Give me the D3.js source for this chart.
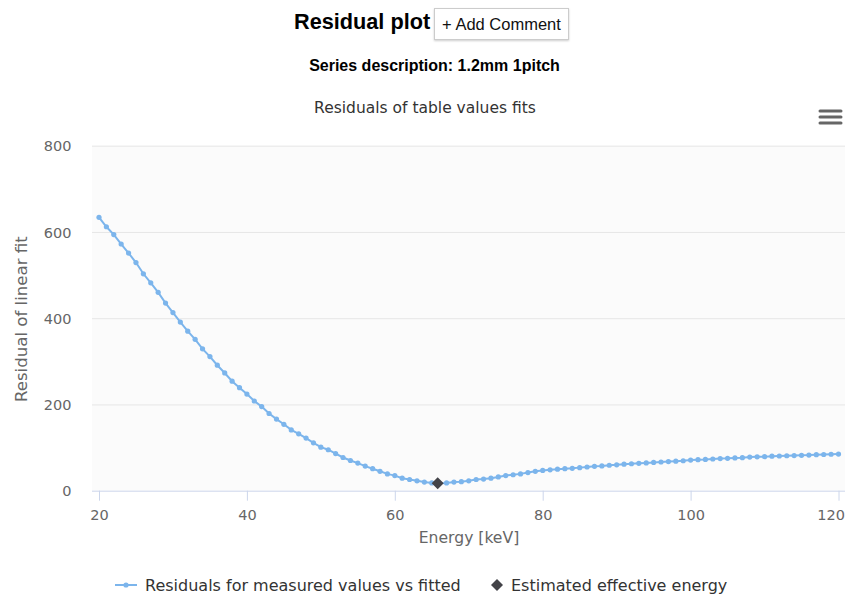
<!DOCTYPE html>
<html><head><meta charset="utf-8">
<script src="https://cdn.jsdelivr.net/npm/d3@7"></script>
<style>
body{margin:0;background:#fff;width:850px;height:602px;overflow:hidden;position:relative;font-family:"Liberation Sans",Arial,sans-serif}
#title{position:absolute;left:294px;top:9px;font-weight:bold;font-size:21.7px;color:#000}
#btn{position:absolute;left:434px;top:8px;width:135px;height:32px;border:1px solid #ccc;box-shadow:0 1px 2px rgba(0,0,0,0.2);background:#fff;font-size:16.5px;line-height:31px;text-align:center;color:#111;box-sizing:border-box}
#sub{position:absolute;left:0;width:869px;top:57px;text-align:center;font-weight:bold;font-size:16px;color:#000}
svg{position:absolute;left:0;top:0}
</style></head>
<body>
<div id="title">Residual plot</div>
<div id="btn">+ Add Comment</div>
<div id="sub">Series description: 1.2mm 1pitch</div>
<svg id="chart" width="850" height="602"></svg>
<script>
const energies = d3.range(20, 121, 1);
const residuals = [
634,612,594,572,551,529,503,482,460,435,
413,391,370,351,329,311,291,273,254,239,
224,208,195,179,166,154,141,132,122,111,
101,95,86,77,70,64,57,51,45,39,
35,29,26,23,20,18,17,18,20,21,
23,26,27,29,32,35,37,39,42,45,
47,48.5,50,51,52,53.5,55,56.5,57.5,59,
60,61.5,62.5,63.5,64.5,65.5,66.5,67.5,68.5,69.5,
71,72,72.5,73.5,74.5,75,76,76.5,78,78.5,
79,80,80.5,81,81.5,82,82.5,83.5,84,84.5,85];
const estimated = [{energy:65.8, residual:17}];
const xTicks = [20,40,60,80,100,120];
const yTicks = [0,200,400,600,800];
const chartTitle = "Residuals of table values fits";
const xTitle = "Energy [keV]";
const yTitle = "Residual of linear fit";
const seriesNames = ["Residuals for measured values vs fitted","Estimated effective energy"];

const svg = d3.select("#chart");
const font = "'DejaVu Sans', sans-serif";
const x = d3.scaleLinear().domain([20,120]).range([99,838.5]);
const y = d3.scaleLinear().domain([0,800]).range([490.7,145.7]);
const plotL = 92, plotR = 845, plotT = 145.7, plotB = 490.7;

svg.append("rect").attr("x",plotL).attr("y",plotT).attr("width",plotR-plotL).attr("height",plotB-plotT).attr("fill","#fbfbfb");

svg.append("g").selectAll("line").data(yTicks.filter(d=>d>0)).join("line")
  .attr("x1",plotL).attr("x2",plotR).attr("y1",d=>y(d)+0.5).attr("y2",d=>y(d)+0.5)
  .attr("stroke","#e6e6e6").attr("stroke-width",1);

const yAxis = d3.axisLeft(y).tickValues(yTicks).tickSize(0).tickPadding(0);
const gy = svg.append("g").attr("transform",`translate(${plotL-20.5},0)`).call(yAxis);
gy.select(".domain").remove();
gy.selectAll("text").attr("font-family",font).attr("font-size",14.5).attr("fill","#666").attr("dy","0.35em");

const xAxis = d3.axisBottom(x).tickValues(xTicks).tickSize(10).tickPadding(6);
const gx = svg.append("g").attr("transform",`translate(0,${plotB})`).call(xAxis);
gx.select(".domain").attr("d",`M${plotL},0.5H${plotR}`).attr("stroke","#ccd6eb");
gx.selectAll(".tick line").attr("stroke","#ccd6eb");
gx.selectAll("text").attr("font-family",font).attr("font-size",14.5).attr("fill","#666").attr("dy","0.9em");
// last label kept inside the chart, as the reference does
gx.selectAll(".tick").filter(d=>d===xTicks[xTicks.length-1]).select("text")
  .attr("text-anchor","end").attr("x",plotR - x(xTicks[xTicks.length-1]) - 0.5);

svg.append("text").attr("x",425).attr("y",113).attr("text-anchor","middle")
  .attr("font-family",font).attr("font-size",15.5).attr("fill","#333").text(chartTitle);
svg.append("text").attr("x",469).attr("y",543).attr("text-anchor","middle")
  .attr("font-family",font).attr("font-size",15.6).attr("fill","#666").text(xTitle);
svg.append("text").attr("transform",`translate(27,${(plotT+plotB)/2+1}) rotate(-90)`).attr("text-anchor","middle")
  .attr("font-family",font).attr("font-size",16.6).attr("fill","#666").text(yTitle);

svg.append("g").selectAll("line").data([0,1,2]).join("line")
  .attr("x1",820).attr("x2",841).attr("y1",d=>111+d*6).attr("y2",d=>111+d*6)
  .attr("stroke","#666").attr("stroke-width",3).attr("stroke-linecap","round");

const data = energies.map((e,i)=>({e, v:residuals[i]}));
const line = d3.line().x(d=>x(d.e)).y(d=>y(d.v));
svg.append("path").datum(data).attr("d",line).attr("fill","none").attr("stroke","#7cb5ec").attr("stroke-width",2);
svg.append("g").selectAll("circle").data(data).join("circle")
  .attr("cx",d=>x(d.e)).attr("cy",d=>y(d.v)).attr("r",2.6).attr("fill","#7cb5ec");

const diamond = s => `M0,${-s}L${s},0L0,${s}L${-s},0Z`;
svg.append("g").selectAll("path").data(estimated).join("path")
  .attr("transform",d=>`translate(${x(d.energy)},${y(d.residual)})`).attr("d",diamond(6)).attr("fill","#434348");

const lg = svg.append("g").attr("transform","translate(0,585)");
lg.append("line").attr("x1",115).attr("x2",137).attr("y1",0).attr("y2",0).attr("stroke","#7cb5ec").attr("stroke-width",2);
lg.append("circle").attr("cx",126).attr("cy",0).attr("r",2.6).attr("fill","#7cb5ec");
lg.append("text").attr("x",145).attr("y",0).attr("dy","0.35em").attr("font-family",font).attr("font-size",16).attr("fill","#333").text(seriesNames[0]);
lg.append("path").attr("transform","translate(497,0)").attr("d",diamond(6)).attr("fill","#434348");
lg.append("text").attr("x",511).attr("y",0).attr("dy","0.35em").attr("font-family",font).attr("font-size",16).attr("fill","#333").text(seriesNames[1]);
</script>
</body></html>
